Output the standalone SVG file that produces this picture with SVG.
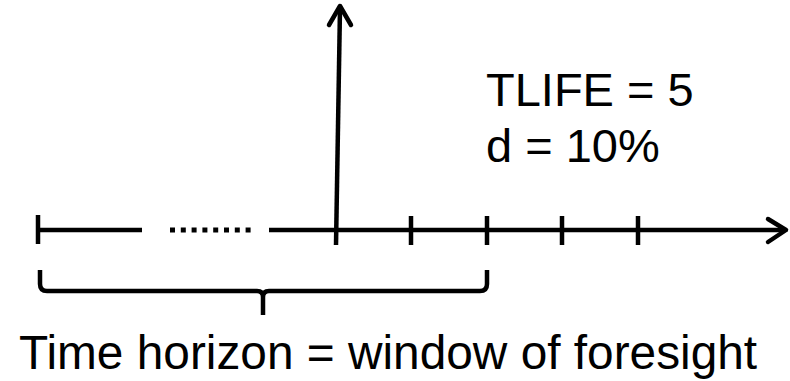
<svg xmlns="http://www.w3.org/2000/svg" width="790" height="381" viewBox="0 0 790 381">
<style>
.ln{stroke:#000;stroke-width:4.5;fill:none;stroke-linecap:butt}
.hd{stroke:#000;stroke-width:4.5;fill:none;stroke-linecap:round;stroke-linejoin:round}
.t{font-family:"Liberation Sans",Arial,sans-serif;font-size:47px;fill:#000}
</style>
<rect width="790" height="381" fill="#fff"/>
<g id="connectors">
<line class="ln" x1="38" y1="230" x2="142" y2="230"/>
<line class="ln" x1="38" y1="215" x2="38" y2="244"/>
<line x1="170" y1="230" x2="255" y2="230" stroke="#000" stroke-width="5" stroke-dasharray="5 5.8"/>
<line class="ln" x1="269" y1="230" x2="785" y2="230"/>
<polyline class="hd" points="768,219 786,230 768,242"/>
<line class="ln" x1="336" y1="245" x2="340" y2="8"/>
<polyline class="hd" points="329,25 340,6 351,25"/>
<line class="ln" x1="411" y1="216" x2="411" y2="245"/>
<line class="ln" x1="487" y1="216" x2="487" y2="245"/>
<line class="ln" x1="562" y1="216" x2="562" y2="245"/>
<line class="ln" x1="638" y1="216" x2="638" y2="245"/>
<path class="ln" d="M40,270 V284 Q40,291 47,291 H257 Q263,291 263,297 V315 M263,297 Q263,291 269,291 H480 Q487,291 487,284 V270"/>
</g>
<g id="params">
<text class="t" x="486" y="106">TLIFE = 5</text>
<text class="t" x="486" y="162">d = 10%</text>
</g>
<g id="label">
<text class="t" x="19" y="369" style="font-size:47.8px">Time horizon = window of foresight</text>
</g>
</svg>
